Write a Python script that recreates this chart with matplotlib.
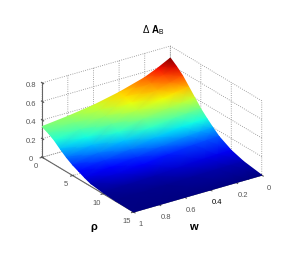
import numpy as np
import matplotlib
matplotlib.use('Agg')
import matplotlib.pyplot as plt
from mpl_toolkits.mplot3d import proj3d

plt.rcParams['font.family'] = ['Liberation Sans', 'DejaVu Sans']
plt.rcParams['mathtext.fontset'] = 'custom'
plt.rcParams['mathtext.rm'] = 'Liberation Sans'
plt.rcParams['mathtext.bf'] = 'Liberation Sans:bold'
plt.rcParams['grid.linestyle'] = ':'
plt.rcParams['grid.linewidth'] = 0.6
plt.rcParams['grid.color'] = '#888888'

# values
rho = [0, 1, 2, 3, 4, 5, 6, 7, 8, 10, 12, 15]
w = [0, 0.1, 0.2, 0.4, 0.6, 0.8, 1]
delta_a = [
    [0.67, 0.60, 0.54, 0.46, 0.40, 0.36, 0.33],
    [0.62, 0.565, 0.515, 0.45, 0.385, 0.33, 0.30],
    [0.56, 0.52, 0.48, 0.425, 0.36, 0.295, 0.26],
    [0.48, 0.455, 0.43, 0.385, 0.315, 0.25, 0.205],
    [0.40, 0.385, 0.365, 0.33, 0.265, 0.205, 0.155],
    [0.32, 0.31, 0.30, 0.27, 0.21, 0.16, 0.115],
    [0.255, 0.25, 0.24, 0.205, 0.155, 0.12, 0.085],
    [0.195, 0.19, 0.18, 0.15, 0.11, 0.085, 0.055],
    [0.14, 0.135, 0.125, 0.10, 0.072, 0.055, 0.03],
    [0.07, 0.065, 0.06, 0.045, 0.028, 0.02, 0.012],
    [0.03, 0.027, 0.024, 0.018, 0.01, 0.007, 0.004],
    [0, 0, 0, 0, 0, 0, 0],
]
rho_ticks = [0, 5, 10, 15]
w_ticks = [0, 0.2, 0.4, 0.6, 0.8, 1]
w_labels = ['0', '0.2', '0.4', '0.6', '0.8', '1']
z_ticks = [0, 0.2, 0.4, 0.6, 0.8]
z_labels = ['0', '0.2', '0.4', '0.6', '0.8']

fig = plt.figure(figsize=(2.95, 2.57), dpi=100)
ax = fig.add_axes([1 / 295, -4 / 257, 1, 1], projection='3d', proj_type='ortho')
ax.patch.set_alpha(0)
ax.view_init(elev=24.5, azim=-34.7)
ax.set_box_aspect((161.7, 157, 82.4), zoom=0.9)
ax.set_xlim(0, 15, view_margin=0)
ax.set_ylim(1, 0, view_margin=0)
ax.set_zlim(0, 0.8, view_margin=0)

ax.set_xticks(rho_ticks)
ax.set_yticks(w_ticks)
ax.set_yticklabels(w_labels)
ax.set_zticks(z_ticks)
ax.set_zticklabels(z_labels)
ax.tick_params(labelsize=5.5, colors='#555555', pad=-3, length=2)
ax.tick_params(axis='y', pad=-1)
ax.get_yticklabels()[2].set_color('black')
ax.zaxis.set_ticks_position('upper')

for axis in (ax.xaxis, ax.yaxis, ax.zaxis):
    axis.set_pane_color((1, 1, 1, 0))
    axis.pane.set_edgecolor('#888888')
    axis.pane.set_linestyle(':')
    axis.pane.set_linewidth(0.6)
    axis.line.set_color('#666666')
    axis.line.set_linewidth(0.8)

fig.canvas.draw()

# surface goes on a pixel overlay so the colours can be gouraud shaded
rr, ww = np.meshgrid(rho, w, indexing='ij')
zz = np.array(delta_a)
px, py, _ = proj3d.proj_transform(rr.ravel(), ww.ravel(), zz.ravel(), ax.get_proj())
disp = ax.transData.transform(np.column_stack([px, py]))
dx = disp[:, 0].reshape(rr.shape)
dy = disp[:, 1].reshape(rr.shape)

overlay = fig.add_axes([0, 0, 1, 1])
overlay.set_xlim(0, 295)
overlay.set_ylim(0, 257)
overlay.axis('off')
overlay.pcolormesh(dx, dy, zz, shading='gouraud', cmap='jet', vmin=0, vmax=zz.max())

fig.text(0.52, 0.882, r'$\Delta$ $\mathbf{A}_{\mathrm{B}}$', ha='center', va='center', fontsize=7)
fig.text(0.319, 0.115, '\u03c1', ha='center', va='center', fontsize=8, fontweight='bold')
fig.text(0.654, 0.115, 'w', ha='center', va='center', fontsize=8, fontweight='bold')

plt.savefig('out.png', dpi=100)
